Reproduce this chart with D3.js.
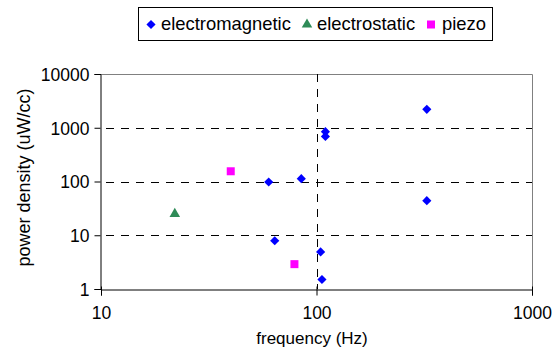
<!DOCTYPE html>
<html><head><meta charset="utf-8">
<script src="https://cdn.jsdelivr.net/npm/d3@7/dist/d3.min.js"></script>
<style>body{margin:0;background:#fff;}svg{display:block;font-family:"Liberation Sans",Arial,sans-serif;}</style>
</head><body>
<script>
const emFreq  = [325, 110, 110, 60, 85, 325, 64, 104.5, 106];
const emPower = [2200, 845, 690, 98, 113, 44, 7.9, 4.9, 1.5];
const esFreq  = [22];
const esPower = [25];
const pzFreq  = [40, 79];
const pzPower = [155, 2.9];
const xTicks = [10, 100, 1000];
const yTicks = [1, 10, 100, 1000, 10000];
const seriesNames = ["electromagnetic", "electrostatic", "piezo"];

const W = 556, H = 351;
const svg = d3.select("body").append("svg").attr("width", W).attr("height", H);
const x = d3.scaleLog().domain([10, 1000]).range([101, 532]);
const y = d3.scaleLog().domain([1, 10000]).range([289, 74]);
const fsTick = 17.5;

// plot frame top/right grey
svg.append("line").attr("x1", 101).attr("x2", 532.5).attr("y1", 74.5).attr("y2", 74.5).attr("stroke", "#808080");
svg.append("line").attr("x1", 532.5).attr("x2", 532.5).attr("y1", 74.5).attr("y2", 289).attr("stroke", "#808080");

// horizontal grid
svg.append("g").selectAll("line").data(yTicks.filter(d => d > 1 && d < 10000)).join("line")
  .attr("x1", 101).attr("x2", 532).attr("y1", d => Math.round(y(d)) + 0.5).attr("y2", d => Math.round(y(d)) + 0.5)
  .attr("stroke", "#000").attr("stroke-dasharray", "8,7").attr("stroke-dashoffset", -5);
// vertical grid
svg.append("g").selectAll("line").data(xTicks.filter(d => d > 10 && d < 1000)).join("line")
  .attr("x1", d => Math.round(x(d)) + 0.5).attr("x2", d => Math.round(x(d)) + 0.5).attr("y1", 74).attr("y2", 289)
  .attr("stroke", "#000").attr("stroke-dasharray", "8,7");

// axes
const xAxis = svg.append("g").attr("transform", "translate(0,289.5)")
  .call(d3.axisBottom(x).tickValues(xTicks).tickFormat(d3.format("d")).tickSizeOuter(0).tickSize(6));
xAxis.selectAll("text").attr("y", 0).attr("dy", 0).attr("transform", "translate(0,29.5)")
  .style("font-size", fsTick + "px").attr("fill", "#000");
xAxis.selectAll(".tick line").attr("y1", -3).attr("y2", 6);
const yAxis = svg.append("g").attr("transform", "translate(100.5,0)")
  .call(d3.axisLeft(y).tickValues(yTicks).tickFormat(d3.format("d")).tickSizeOuter(0).tickSize(6));
yAxis.selectAll("text").attr("x", -11).attr("dy", "0.36em").style("font-size", fsTick + "px").attr("fill", "#000");
svg.selectAll(".domain").attr("stroke", "#000");
svg.selectAll(".tick line").attr("stroke", "#000");
svg.selectAll(".tick text").attr("font-family", null);

// axis titles
svg.append("text").attr("x", 312).attr("y", 344).attr("text-anchor", "middle")
  .style("font-size", "17px").text("frequency (Hz)");
svg.append("text").attr("transform", "translate(30,177.5) rotate(-90)").attr("text-anchor", "middle")
  .style("font-size", "18px").text("power density (uW/cc)");

// markers
const diamond = d3.symbol().type(d3.symbolSquare).size(42)();
const tri = d3.symbol().type(d3.symbolTriangle).size(48)();
const sq = d3.symbol().type(d3.symbolSquare).size(64)();
const em = emFreq.map((f, i) => [f, emPower[i]]);
const es = esFreq.map((f, i) => [f, esPower[i]]);
const pz = pzFreq.map((f, i) => [f, pzPower[i]]);
svg.append("g").selectAll("path").data(em).join("path").attr("d", diamond)
  .attr("transform", d => `translate(${x(d[0])},${y(d[1])}) rotate(45)`).attr("fill", "#0000FF");
svg.append("g").selectAll("path").data(es).join("path").attr("d", tri)
  .attr("transform", d => `translate(${x(d[0])},${y(d[1])})`).attr("fill", "#2E8B57");
svg.append("g").selectAll("path").data(pz).join("path").attr("d", sq)
  .attr("transform", d => `translate(${x(d[0])},${y(d[1])})`).attr("fill", "#FF00FF");

// legend
svg.append("rect").attr("x", 138.5).attr("y", 7.5).attr("width", 354).attr("height", 33)
  .attr("fill", "#fff").attr("stroke", "#000");
const lg = [
  {mx: 151, tx: 161, sym: diamond, rot: 45, col: "#0000FF"},
  {mx: 307, tx: 317, sym: tri, rot: 0, col: "#2E8B57"},
  {mx: 431, tx: 442, sym: sq, rot: 0, col: "#FF00FF"}
];
lg.forEach((l, i) => {
  svg.append("path").attr("d", l.sym).attr("transform", `translate(${l.mx},24.5) rotate(${l.rot})`).attr("fill", l.col);
  svg.append("text").attr("x", l.tx).attr("y", 30).style("font-size", "18.4px").text(seriesNames[i]);
});
</script>
</body></html>
